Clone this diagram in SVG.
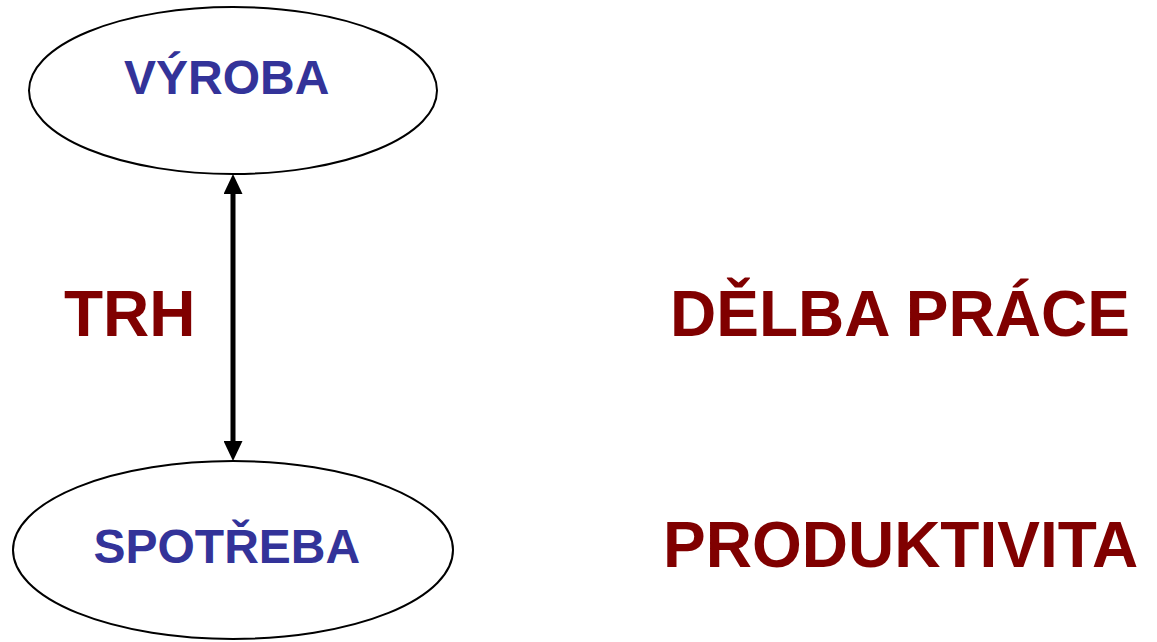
<svg xmlns="http://www.w3.org/2000/svg" width="1157" height="642" viewBox="0 0 1157 642">
  <style>
    .node { fill: #ffffff; stroke: #000000; stroke-width: 2; }
    .blue { font-family: "Liberation Sans", Arial, sans-serif; font-weight: bold; font-size: 48px; fill: #333399; }
    .red { font-family: "Liberation Sans", Arial, sans-serif; font-weight: bold; font-size: 64px; fill: #800000; }
    .conn { stroke: #000000; stroke-width: 5; fill: none; }
  </style>
  <defs>
    <marker id="head" viewBox="0 0 20 19" refX="0" refY="9.5" markerWidth="20" markerHeight="19" markerUnits="userSpaceOnUse" orient="auto-start-reverse">
      <path d="M0,0 L20,9.5 L0,19 z" fill="#000000"/>
    </marker>
  </defs>
  <rect width="1157" height="642" fill="#ffffff"/>
  <g id="connectors">
    <line class="conn" x1="233" y1="194" x2="233" y2="441" marker-start="url(#head)" marker-end="url(#head)"/>
  </g>
  <g id="vyroba">
    <ellipse class="node" cx="233" cy="90.5" rx="204" ry="83.5"/>
    <text class="blue" x="124" y="94">VÝROBA</text>
  </g>
  <g id="spotreba">
    <ellipse class="node" cx="233" cy="550" rx="220" ry="89"/>
    <text class="blue" x="93.5" y="563">SPOTŘEBA</text>
  </g>
  <g id="trh">
    <text class="red" x="64" y="336">TRH</text>
  </g>
  <g id="delba">
    <text class="red" x="670" y="336">DĚLBA PRÁCE</text>
  </g>
  <g id="produktivita">
    <text class="red" x="663" y="567">PRODUKTIVITA</text>
  </g>
</svg>
